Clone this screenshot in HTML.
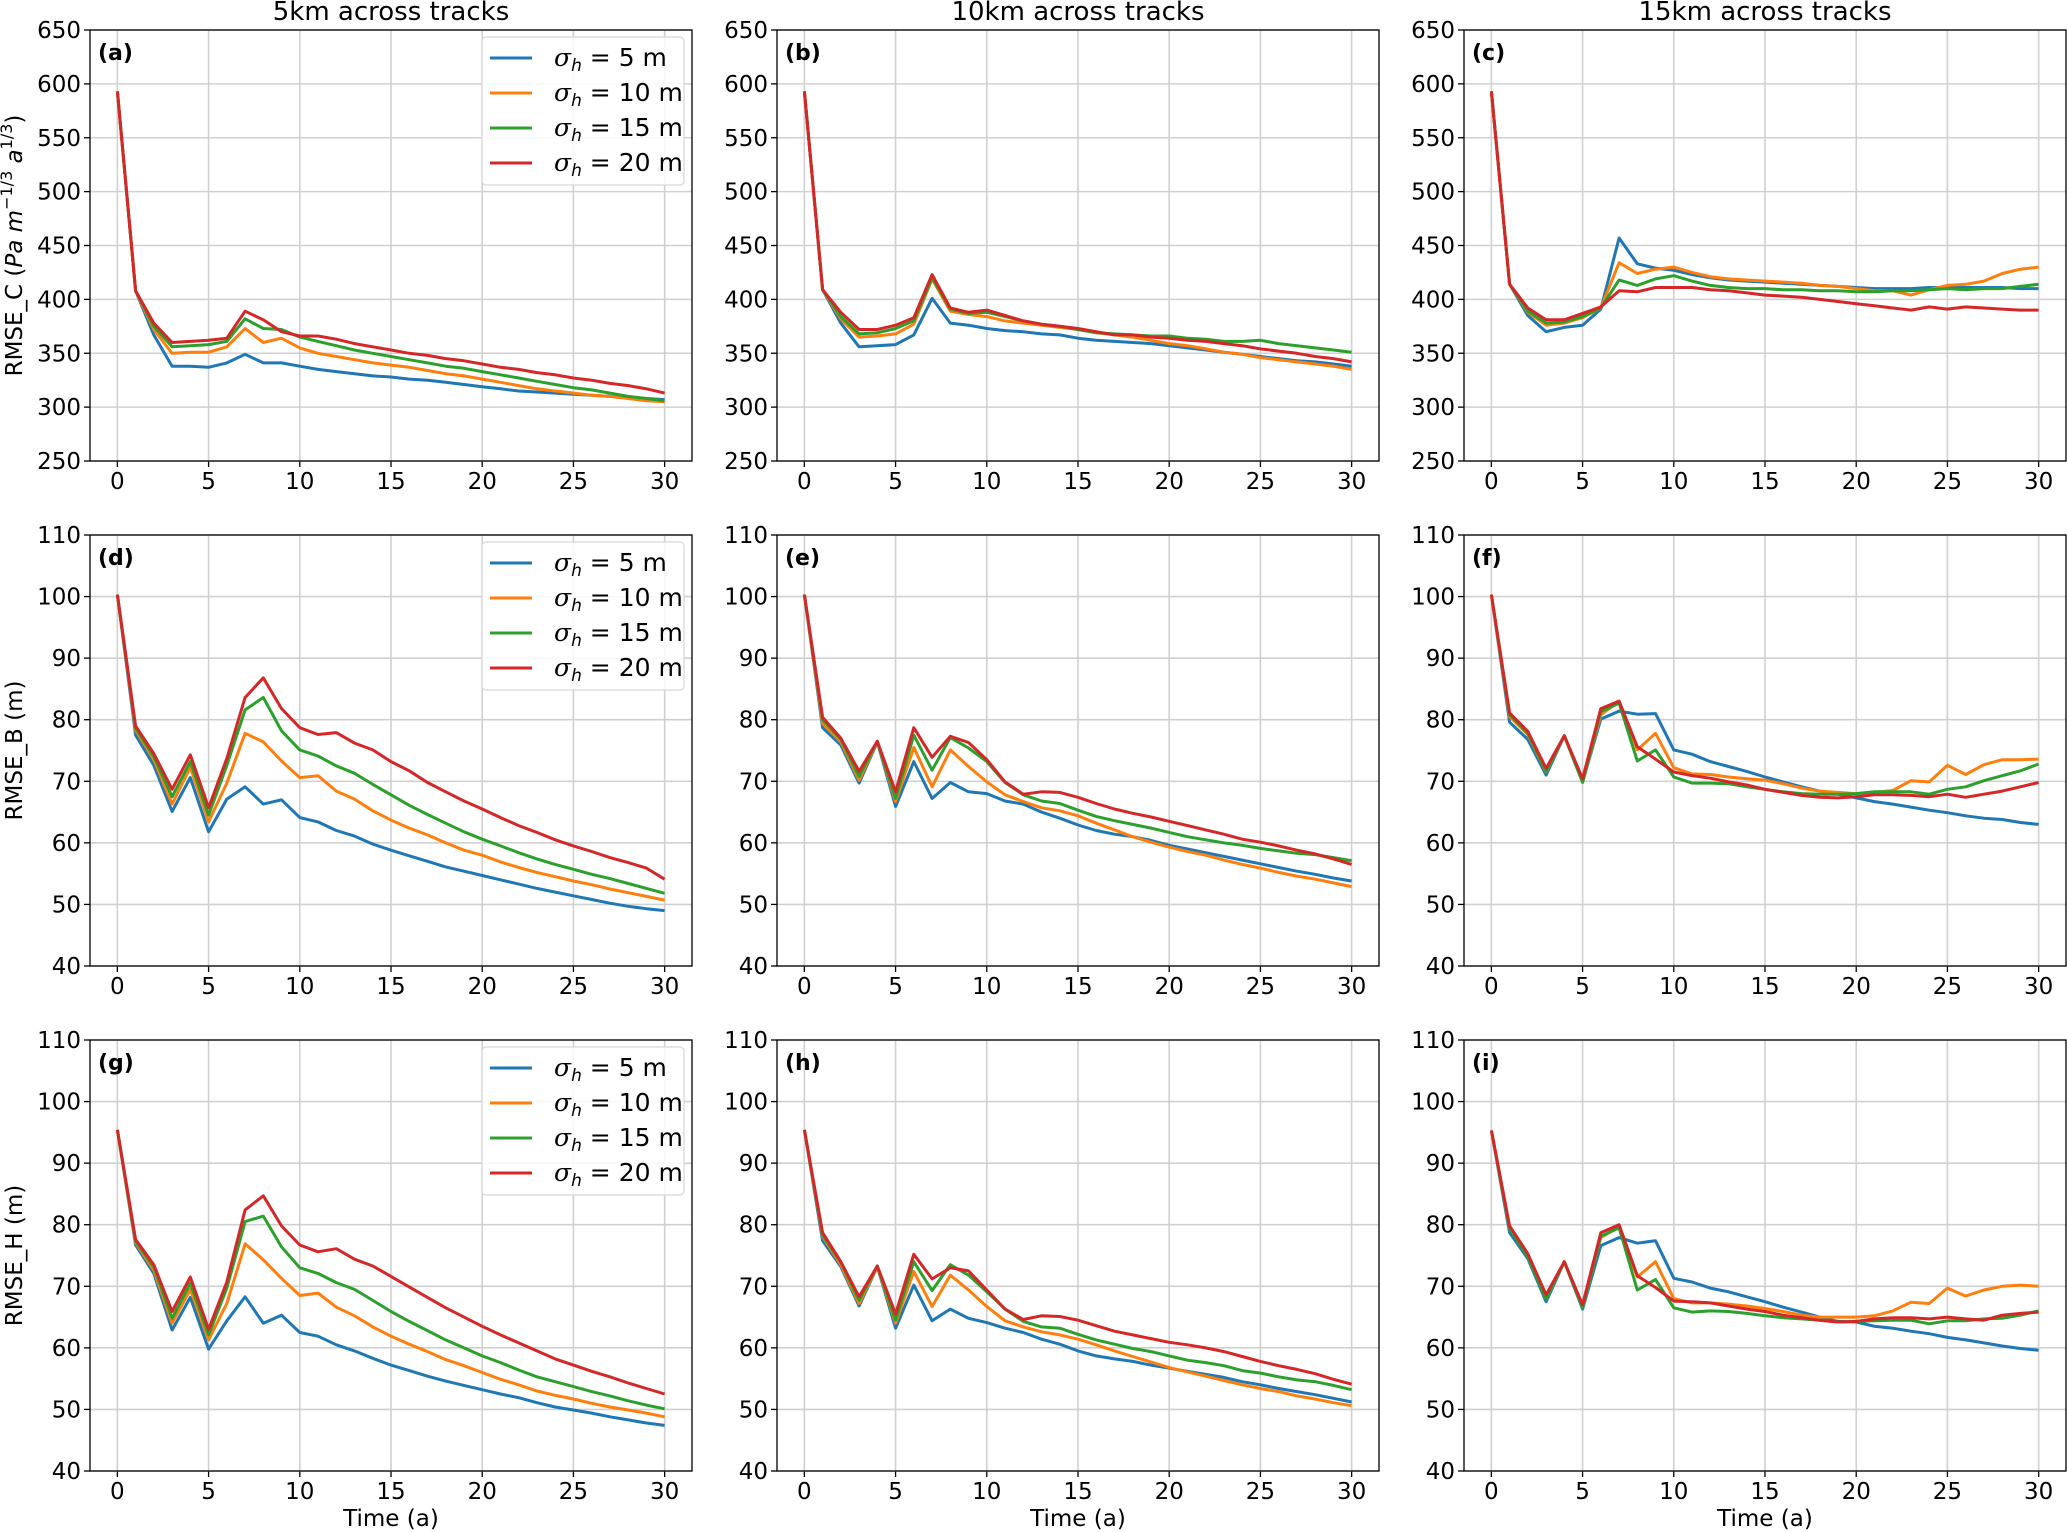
<!DOCTYPE html>
<html><head><meta charset="utf-8">
<style>
html,body{margin:0;padding:0;background:#fff;}
svg{display:block;font-family:"DejaVu Sans","Liberation Sans",sans-serif;}
</style></head>
<body>
<svg id="fig" width="2067" height="1532" viewBox="0 0 2067 1532" xmlns="http://www.w3.org/2000/svg"></svg>
<script>
const years = Array.from({length:31},(_,i)=>i);
const xTicks = [0,5,10,15,20,25,30];
const yTicksC = [250,300,350,400,450,500,550,600,650];
const yTicksBH = [40,50,60,70,80,90,100,110];
const seriesNames = ["σh = 5 m","σh = 10 m","σh = 15 m","σh = 20 m"];
const colTitles = ["5km across tracks","10km across tracks","15km across tracks"];

const aBlue=[593,408,367,338,338,337,341,349,341,341,338,335,333,331,329,328,326,325,323,321,319,317,315,314,313,312,311,310,309,308,307];
const aOrange=[593,408,372,350,351,351,356,373,360,364,355,350,347,344,341,339,337,334,331,329,326,323,320,317,315,313,311,310,308,306,305];
const aGreen=[593,408,375,356,357,358,361,382,373,372,365,361,357,353,350,347,344,341,338,336,333,330,327,324,321,318,316,313,310,308,306];
const aRed=[593,408,378,360,361,362,364,389,381,370,366,366,363,359,356,353,350,348,345,343,340,337,335,332,330,327,325,322,320,317,313];

const bBlue=[593,409,378,356,357,358,367,401,378,376,373,371,370,368,367,364,362,361,360,359,357,355,353,351,349,347,345,343,342,340,338];
const bOrange=[593,409,382,365,366,368,377,419,389,386,384,380,378,376,374,372,369,367,365,362,359,357,354,351,349,346,344,342,340,338,335];
const bGreen=[593,409,384,368,369,373,380,420,391,387,388,384,380,377,375,372,369,368,367,366,366,364,363,361,361,362,359,357,355,353,351];
const bRed=[593,409,388,372,372,376,383,423,392,388,390,385,380,377,375,373,370,367,367,365,364,362,361,359,357,354,352,350,347,345,342];

const cBlue=[593,414,385,370,374,376,391,457,433,429,427,423,420,418,417,416,415,414,413,412,411,410,410,410,411,411,411,411,411,410,410];
const cOrange=[593,414,388,376,378,383,392,434,424,428,430,425,421,419,418,417,416,415,413,412,410,408,408,404,409,413,414,417,424,428,430];
const cGreen=[593,414,389,378,379,384,392,418,413,419,422,417,413,411,410,410,409,409,408,408,407,407,408,408,409,410,409,410,410,412,414];
const cRed=[593,414,392,381,381,387,393,408,407,411,411,411,409,408,406,404,403,402,400,398,396,394,392,390,393,391,393,392,391,390,390];

const dBlue=[100.3,77.5,72.6,65.1,70.6,61.8,67.1,69.1,66.3,67,64.1,63.4,62,61.1,59.8,58.8,57.9,57,56.1,55.4,54.7,54,53.3,52.6,52,51.4,50.8,50.2,49.7,49.3,49];
const dOrange=[100.3,78.3,73.5,66.3,72.3,63.4,69.7,77.8,76.4,73.3,70.6,70.9,68.4,67.1,65.2,63.7,62.4,61.3,60,58.8,58,56.9,56,55.2,54.5,53.8,53.2,52.5,51.9,51.3,50.7];
const dGreen=[100.3,78.6,74,67.5,73.2,64.5,72.6,81.6,83.6,78.2,75.1,74.1,72.5,71.3,69.5,67.8,66.1,64.6,63.2,61.8,60.6,59.5,58.4,57.4,56.5,55.7,54.9,54.2,53.4,52.6,51.8];
const dRed=[100.3,79,74.5,68.7,74.3,65.7,73.7,83.6,86.8,81.8,78.7,77.6,77.9,76.2,75.1,73.2,71.7,69.8,68.3,66.8,65.5,64.1,62.8,61.7,60.5,59.5,58.6,57.6,56.8,55.9,54.1];

const eBlue=[100.3,78.7,75.9,69.7,76.4,65.9,73.2,67.2,69.8,68.3,68,66.8,66.3,65,64,62.9,62,61.4,61,60.4,59.6,59,58.4,57.8,57.2,56.6,56,55.4,54.9,54.3,53.8];
const eOrange=[100.3,79.4,76.4,70.2,76.5,66.7,75.5,69.1,75.1,72.4,69.9,67.8,66.7,65.7,65.2,64.4,63.2,62.1,61,60.1,59.3,58.6,58,57.2,56.5,55.9,55.2,54.6,54.1,53.5,52.9];
const eGreen=[100.3,80,76.8,70.8,76.5,67.2,77.5,71.8,77.1,75.4,73.2,69.8,67.8,66.8,66.4,65.3,64.3,63.6,63,62.4,61.7,61,60.5,60,59.6,59.1,58.7,58.3,58.1,57.6,57.1];
const eRed=[100.3,80.4,77,71.6,76.5,68.3,78.7,73.9,77.3,76.3,73.5,69.9,67.9,68.3,68.2,67.4,66.4,65.5,64.8,64.2,63.5,62.8,62.1,61.4,60.6,60.1,59.5,58.8,58.2,57.4,56.5];

const fBlue=[100.3,79.6,76.8,71,77.4,69.9,80.1,81.4,80.9,81,75.1,74.4,73.2,72.4,71.6,70.7,69.9,69.1,68.4,67.9,67.3,66.7,66.3,65.8,65.3,64.9,64.4,64,63.8,63.3,63];
const fOrange=[100.3,80.5,77.6,71.5,77.4,69.9,80.8,83,75.1,77.8,72.2,71.2,71.1,70.7,70.4,70.2,69.6,68.9,68.4,68.2,68,68.2,68.5,70.1,69.9,72.6,71.1,72.7,73.5,73.5,73.6];
const fGreen=[100.3,80.8,77.8,71.6,77.4,69.8,81.3,82.7,73.3,75.1,70.7,69.7,69.7,69.6,69.1,68.7,68.3,68,67.9,67.9,68,68.3,68.3,68.3,67.9,68.7,69.1,70.1,70.9,71.7,72.8];
const fRed=[100.3,81.1,78.1,72.1,77.4,70.4,81.8,83,75.6,73.6,71.5,70.9,70.5,69.9,69.4,68.7,68.2,67.7,67.4,67.3,67.5,67.8,67.8,67.7,67.5,67.9,67.4,67.9,68.4,69.1,69.8];

const gBlue=[95.4,76.7,72.1,62.9,68.2,59.8,64.4,68.3,64,65.3,62.5,61.9,60.5,59.5,58.3,57.2,56.3,55.4,54.6,53.9,53.2,52.5,51.9,51.1,50.4,49.9,49.4,48.8,48.3,47.8,47.4];
const gOrange=[95.4,77.1,72.6,64,69.5,61.3,67.2,76.9,74.3,71.3,68.5,68.9,66.6,65.2,63.4,61.9,60.6,59.4,58.1,57.1,56,54.9,54,53,52.3,51.7,51,50.4,49.9,49.4,48.8];
const gGreen=[95.4,77.3,73.1,64.8,70.5,62.1,69.7,80.5,81.4,76.4,73,72.1,70.6,69.5,67.7,65.9,64.3,62.8,61.3,60,58.7,57.6,56.4,55.3,54.5,53.7,52.9,52.2,51.4,50.7,50.1];
const gRed=[95.4,77.6,73.5,65.9,71.5,63,70.7,82.4,84.7,79.8,76.7,75.6,76.1,74.4,73.3,71.6,69.9,68.2,66.5,65,63.5,62.1,60.8,59.5,58.2,57.2,56.2,55.3,54.3,53.4,52.5];

const hBlue=[95.4,77.4,73.2,66.8,73.2,63.2,70.2,64.4,66.3,64.8,64.1,63.2,62.5,61.4,60.6,59.5,58.7,58.2,57.8,57.2,56.7,56.2,55.7,55.2,54.5,54,53.4,52.9,52.4,51.8,51.2];
const hOrange=[95.4,78.1,73.5,67.2,73.2,64,72.4,66.7,71.8,69.4,66.7,64.4,63.4,62.6,62.1,61.4,60.5,59.5,58.6,57.7,56.8,56.1,55.4,54.7,54,53.4,52.9,52.2,51.7,51.1,50.6];
const hGreen=[95.4,78.3,73.9,67.7,73.3,64.5,74,69.3,73.5,71.8,69.1,66.3,64.3,63.4,63.2,62.2,61.3,60.6,59.9,59.4,58.7,58,57.6,57.1,56.3,55.9,55.3,54.8,54.5,53.9,53.2];
const hRed=[95.4,78.7,74,68.3,73.3,65.5,75.2,71.2,73,72.5,69.4,66.3,64.6,65.2,65.1,64.5,63.6,62.7,62.1,61.5,60.9,60.5,60,59.4,58.6,57.8,57.1,56.5,55.8,54.9,54.1];

const iBlue=[95.3,78.7,74.5,67.5,74,66.3,76.6,77.9,77,77.4,71.3,70.7,69.7,69.1,68.3,67.5,66.6,65.8,65,64.3,64.2,63.5,63.2,62.7,62.3,61.7,61.3,60.8,60.3,59.9,59.6];
const iOrange=[95.3,79.4,75.1,68,74,66.6,77.9,79.7,71.5,74,68,67.3,67.3,67.1,66.8,66.4,65.9,65.3,65,65,65,65.2,66,67.4,67.2,69.7,68.4,69.4,70,70.2,70];
const iGreen=[95.3,79.4,74.8,67.9,74,66.5,78.1,79.5,69.4,71.1,66.5,65.8,66,65.9,65.6,65.2,64.9,64.7,64.5,64.2,64.3,64.4,64.5,64.5,63.9,64.4,64.4,64.7,64.8,65.3,66];
const iRed=[95.3,79.8,75.3,68.6,74,67,78.7,80,71.7,69.8,67.6,67.5,67.3,66.8,66.3,65.9,65.3,64.9,64.5,64.2,64.3,64.7,64.9,64.9,64.7,65,64.7,64.5,65.3,65.6,65.8];

const colors=["#1f77b4","#ff7f0e","#2ca02c","#d62728"];
const NS="http://www.w3.org/2000/svg";
const svg=document.getElementById('fig');
function mk(tag,attrs,parent){const e=document.createElementNS(NS,tag);for(const k in attrs)e.setAttribute(k,attrs[k]);(parent||svg).appendChild(e);return e;}

const lefts=[90,777,1464], tops=[30,535,1040], W=602, H=431;
const panels=[
 {l:"a",r:0,c:0,d:[aBlue,aOrange,aGreen,aRed],yt:yTicksC,leg:true},
 {l:"b",r:0,c:1,d:[bBlue,bOrange,bGreen,bRed],yt:yTicksC},
 {l:"c",r:0,c:2,d:[cBlue,cOrange,cGreen,cRed],yt:yTicksC},
 {l:"d",r:1,c:0,d:[dBlue,dOrange,dGreen,dRed],yt:yTicksBH,leg:true},
 {l:"e",r:1,c:1,d:[eBlue,eOrange,eGreen,eRed],yt:yTicksBH},
 {l:"f",r:1,c:2,d:[fBlue,fOrange,fGreen,fRed],yt:yTicksBH},
 {l:"g",r:2,c:0,d:[gBlue,gOrange,gGreen,gRed],yt:yTicksBH,leg:true},
 {l:"h",r:2,c:1,d:[hBlue,hOrange,hGreen,hRed],yt:yTicksBH},
 {l:"i",r:2,c:2,d:[iBlue,iOrange,iGreen,iRed],yt:yTicksBH},
];
panels.forEach(p=>{
  const L=lefts[p.c],T=tops[p.r];
  const y0=p.yt[0],y1=p.yt[p.yt.length-1];
  const xs=v=>L+W*(v+1.5)/33;
  const ys=v=>T+H*(y1-v)/(y1-y0);
  const g=mk('g',{});
  
  
  xTicks.forEach(t=>{
    const gl=mk('line',{x1:xs(t),x2:xs(t),y1:T,y2:T+H,stroke:'#d0d0d0','stroke-width':1.6},g);
    
    mk('line',{x1:xs(t),x2:xs(t),y1:T+H,y2:T+H+6,stroke:'#000','stroke-width':1.3},g);
    const tx=mk('text',{x:xs(t),y:T+H+28,'text-anchor':'middle','font-size':23},g);
    tx.textContent=t;
    
  });
  p.yt.forEach(t=>{
    const gl=mk('line',{x1:L,x2:L+W,y1:ys(t),y2:ys(t),stroke:'#d0d0d0','stroke-width':1.6},g);
    
    mk('line',{x1:L-6,x2:L,y1:ys(t),y2:ys(t),stroke:'#000','stroke-width':1.3},g);
    const tx=mk('text',{x:L-9,y:ys(t)+8,'text-anchor':'end','font-size':23},g);
    tx.textContent=t;
    
  });
  p.d.forEach((s,i)=>{
    const pts=s.map((v,k)=>xs(years[k]).toFixed(1)+','+ys(v).toFixed(1)).join(' ');
    const pl=mk('polyline',{points:pts,fill:'none',stroke:colors[i],'stroke-width':3,'stroke-linejoin':'round'},g);
    
    
  });
  const fr=mk('rect',{x:L,y:T,width:W,height:H,fill:'none',stroke:'#000','stroke-width':1.3},g);
  
  const lab=mk('text',{x:L+8,y:T+30,'font-size':22,'font-weight':'bold'},g);
  lab.textContent='('+p.l+')';
  
  if(p.leg){
    const lg=mk('g',{},g);
    
    const lx=L+W-210, ly=T+7;
    mk('rect',{x:lx,y:ly,width:202,height:148,rx:4,fill:'#fff','fill-opacity':0.85,stroke:'#d8d8d8','stroke-width':1.3},lg);
    seriesNames.forEach((n,i)=>{
      const ry=ly+21+i*35;
      const e=mk('g',{},lg);
      
      mk('line',{x1:lx+8,x2:lx+50,y1:ry,y2:ry,stroke:colors[i],'stroke-width':3},e);
      const t=mk('text',{x:lx+72,y:ry+8,'font-size':25},e);
      const sv=n.split(' = ')[1];
      t.innerHTML='<tspan font-style="italic" font-family="DejaVu Serif, serif">σ</tspan><tspan font-style="italic" font-size="17" dy="5">h</tspan><tspan dy="-5"> = '+sv+'</tspan>';
    });
  }
});
colTitles.forEach((t,c)=>{
  const tx=mk('text',{x:lefts[c]+W/2,y:20,'text-anchor':'middle','font-size':26});
  tx.textContent=t;
  
  const xl=mk('text',{x:lefts[c]+W/2,y:1526,'text-anchor':'middle','font-size':23});
  xl.textContent='Time (a)';
  
});
const yl=[['RMSE_C (<tspan font-style="italic">Pa m</tspan><tspan font-size="16" dy="-10">−1/3</tspan><tspan dy="10"> </tspan><tspan font-style="italic">a</tspan><tspan font-size="16" dy="-10">1/3</tspan><tspan dy="10">)</tspan>',0],['RMSE_B (m)',1],['RMSE_H (m)',2]];
yl.forEach(([t,r])=>{
  const cy=tops[r]+H/2;
  const tx=mk('text',{x:0,y:0,'text-anchor':'middle','font-size':23,transform:`translate(22,${cy}) rotate(-90)`});
  tx.innerHTML=t;
  
});
</script>
</body></html>
